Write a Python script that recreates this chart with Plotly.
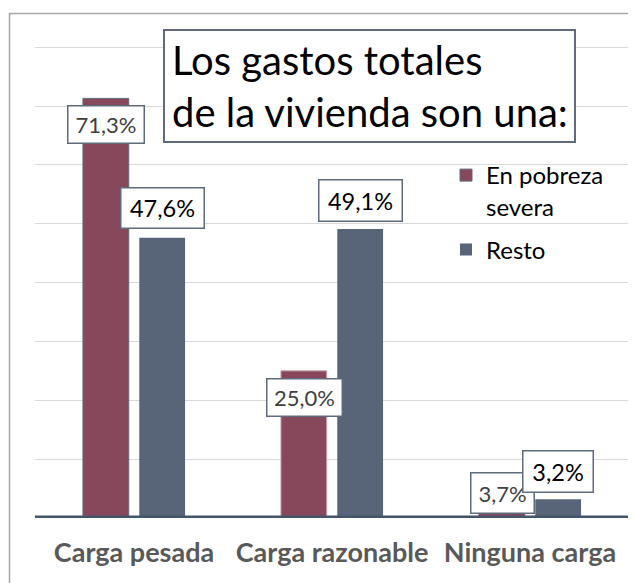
import plotly.graph_objects as go

categories = ["Carga pesada", "Carga razonable", "Ninguna carga"]
series_names = ["En pobreza<br>severa", "Resto"]
pobreza = [71.3, 25.0, 3.7]
resto = [47.6, 49.1, 3.2]
pobreza_labels = ["71,3%", "25,0%", "3,7%"]
resto_labels = ["47,6%", "49,1%", "3,2%"]

RED = "#86485A"
BLUE = "#586477"
FONT = "Lato"

# label placement (pixels relative to bar top) and box sizes
pob_yshift = [-26, -27, 3]
res_yshift = [30, 29, 28]
pob_box = [(75, 36), (74, 36), (62, 39)]
res_box = [(82, 39), (82, 40), (69, 40)]
BAR_OFF = 28

fig = go.Figure()
fig.add_trace(go.Bar(x=categories, y=pobreza, name=series_names[0], legendgroup="a",
                     marker=dict(color=RED, line=dict(color=["#5E6A7B", "#C9A3AE", RED], width=1))))
fig.add_trace(go.Bar(x=categories, y=resto, name=series_names[1], legendgroup="b",
                     marker=dict(color=BLUE, line=dict(width=0))))

annotations = []
for i, c in enumerate(categories):
    w, h = pob_box[i]
    annotations.append(dict(x=c, y=pobreza[i], xref="x", yref="y", xshift=-BAR_OFF,
                            yshift=pob_yshift[i], text=pobreza_labels[i], showarrow=False,
                            font=dict(family=FONT, size=22, color="#404040"),
                            bgcolor="white", bordercolor="#5E6B7D", borderwidth=1.5,
                            borderpad=0, width=w, height=h, xanchor="center", yanchor="middle"))
    w, h = res_box[i]
    annotations.append(dict(x=c, y=resto[i], xref="x", yref="y", xshift=BAR_OFF,
                            yshift=res_yshift[i], text=resto_labels[i], showarrow=False,
                            font=dict(family=FONT, size=23.5, color="#000000"),
                            bgcolor="white", bordercolor="#5E6B7D", borderwidth=1.5,
                            borderpad=0, width=w, height=h, xanchor="center", yanchor="middle"))

annotations.append(dict(xref="paper", yref="paper", x=(163 - 35) / 594, y=(518 - 29) / 472,
                        xanchor="left", yanchor="top", align="left", showarrow=False,
                        text="Los gastos totales<br>de la vivienda son una:",
                        font=dict(family=FONT, size=40, color="#000000"),
                        bgcolor="white", bordercolor="#5E6B7D", borderwidth=2,
                        borderpad=7, width=395, height=96))

shapes = [
    dict(type="rect", xref="paper", yref="paper", x0=(9.5 - 35) / 594, x1=1.1,
         y0=-0.3, y1=(518 - 13.5) / 472, line=dict(color="#A6A6A6", width=1.5), layer="below"),
    dict(type="line", xref="paper", yref="y", x0=0, x1=1, y0=0, y1=0,
         line=dict(color="#44546A", width=5), layer="above"),
]

fig.update_layout(
    width=636, height=583,
    margin=dict(l=27, r=15, t=38, b=73),
    paper_bgcolor="white", plot_bgcolor="white",
    barmode="group", bargap=0.431, bargroupgap=0.187,
    showlegend=True,
    legend=dict(x=(446 - 35) / 594, y=(518 - 153) / 472, xanchor="left", yanchor="top",
                font=dict(family=FONT, size=24, color="#000000"), valign="top",
                bgcolor="rgba(0,0,0,0)", tracegroupgap=9, traceorder="grouped"),
    annotations=annotations,
    shapes=shapes,
    xaxis=dict(showline=False, ticks="", showgrid=False, zeroline=False,
               tickfont=dict(family=FONT, size=27, color="#595959", weight="bold"),
               ticklabelstandoff=16),
    yaxis=dict(range=[0, 80.2], dtick=10, showticklabels=False, showgrid=True,
               gridcolor="#D9D9D9", gridwidth=1, zeroline=False, showline=False),
)

fig.write_html("out.html")
